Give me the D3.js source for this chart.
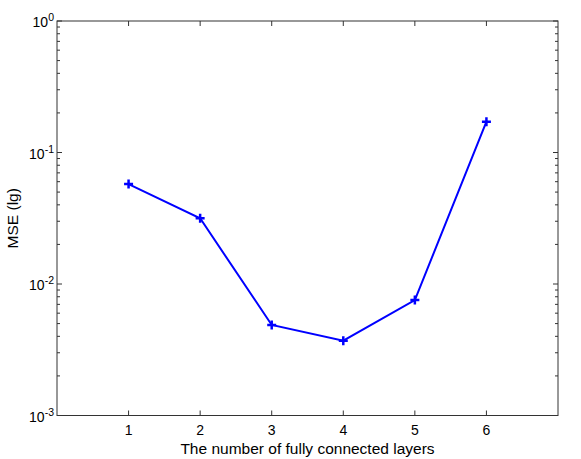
<!DOCTYPE html>
<html><head><meta charset="utf-8">
<script src="https://cdn.jsdelivr.net/npm/d3@7"></script>
<style>body{margin:0;background:#fff;} text{font-family:"Liberation Sans",Arial,sans-serif;}</style>
</head><body>
<svg id="c" width="581" height="459"></svg>
<script>
const layers = [1, 2, 3, 4, 5, 6];
const mse = [0.0575, 0.0316, 0.00488, 0.00371, 0.00755, 0.1714];
const xTicks = [1, 2, 3, 4, 5, 6];
const yTickExps = [-3, -2, -1, 0];

const W = 581, H = 459;
const m = {left: 57, right: 23, top: 21, bottom: 43.5};
const svg = d3.select("#c");
const x = d3.scaleLinear().domain([0, 7]).range([m.left, W - m.right]);
const y = d3.scaleLog().domain([1e-3, 1]).range([H - m.bottom, m.top]);
const axisColor = "#333";
const x0 = x.range()[0], x1 = x.range()[1], y0 = y.range()[0], y1 = y.range()[1];

svg.append("rect").attr("x", x0).attr("y", y1).attr("width", x1 - x0).attr("height", y0 - y1)
  .attr("fill", "none").attr("stroke", axisColor).attr("stroke-width", 1);

const g = svg.append("g").attr("stroke", axisColor).attr("stroke-width", 1);
xTicks.forEach(t => {
  g.append("line").attr("x1", x(t)).attr("x2", x(t)).attr("y1", y0).attr("y2", y0 - 5);
  g.append("line").attr("x1", x(t)).attr("x2", x(t)).attr("y1", y1).attr("y2", y1 + 5);
});
yTickExps.forEach(e => {
  const v = Math.pow(10, e);
  g.append("line").attr("x1", x0).attr("x2", x0 + 5).attr("y1", y(v)).attr("y2", y(v));
  g.append("line").attr("x1", x1).attr("x2", x1 - 5).attr("y1", y(v)).attr("y2", y(v));
  if (e < 0) for (let k = 2; k <= 9; k++) {
    const mv = k * v;
    g.append("line").attr("x1", x0).attr("x2", x0 + 3).attr("y1", y(mv)).attr("y2", y(mv));
    g.append("line").attr("x1", x1).attr("x2", x1 - 3).attr("y1", y(mv)).attr("y2", y(mv));
  }
});

xTicks.forEach(t => {
  svg.append("text").attr("x", x(t)).attr("y", y0 + 19).attr("text-anchor", "middle")
    .attr("font-size", 14).attr("fill", "#000").text(t);
});
yTickExps.forEach(e => {
  const t = svg.append("text").attr("x", x0 - 3).attr("y", y(Math.pow(10, e)) + 6)
    .attr("text-anchor", "end").attr("font-size", 14).attr("fill", "#000");
  t.append("tspan").text("10");
  t.append("tspan").attr("dy", -6).attr("font-size", 10.5).text(e);
});

svg.append("text").attr("x", (x0 + x1) / 2).attr("y", 454).attr("text-anchor", "middle")
  .attr("font-size", 15.5).text("The number of fully connected layers");
svg.append("text").attr("transform", `translate(18,${(y0 + y1) / 2}) rotate(-90)`)
  .attr("text-anchor", "middle").attr("font-size", 15.5).text("MSE (lg)");

const pts = layers.map((l, i) => [l, mse[i]]);
svg.append("path").datum(pts).attr("fill", "none").attr("stroke", "#0000ff").attr("stroke-width", 2)
  .attr("d", d3.line().x(d => x(d[0])).y(d => y(d[1])));
const s = 4.5;
svg.selectAll(".mk").data(pts).enter().append("path").attr("class", "mk")
  .attr("d", d => { const cx = x(d[0]), cy = y(d[1]);
    return `M${cx - s},${cy}H${cx + s}M${cx},${cy - s}V${cy + s}`; })
  .attr("stroke", "#0000ff").attr("stroke-width", 2.5).attr("fill", "none");
</script>
</body></html>
